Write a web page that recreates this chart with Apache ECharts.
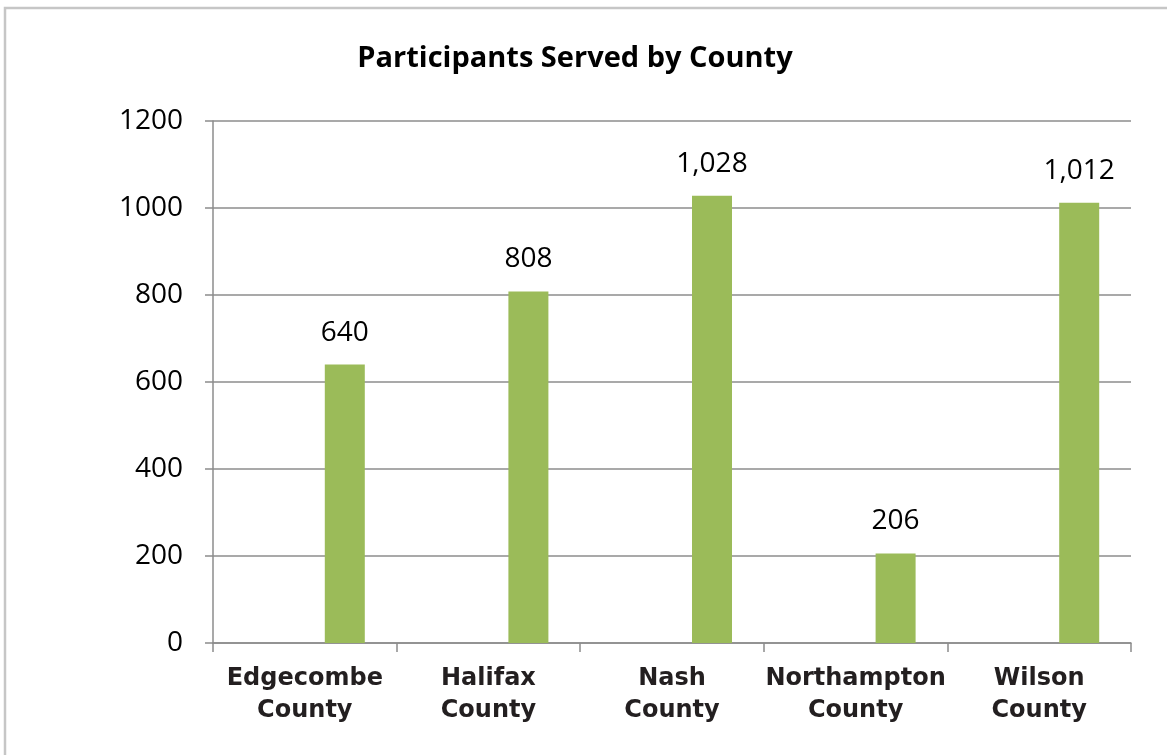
<!DOCTYPE html>
<html>
<head>
<meta charset="utf-8">
<script src="https://cdn.jsdelivr.net/npm/echarts@6/dist/echarts.min.js"></script>
<style>
html,body{margin:0;padding:0;background:#fff;}
#chart{width:1167px;height:755px;}
</style>
</head>
<body>
<div id="chart"></div>
<script>
var categories = ["Edgecombe\nCounty", "Halifax\nCounty", "Nash\nCounty", "Northampton\nCounty", "Wilson\nCounty"];
var participants = [640, 808, 1028, 206, 1012];
var emptySeries = [null, null, null, null, null];
var yTicks = [0, 200, 400, 600, 800, 1000, 1200];

var chart = echarts.init(document.getElementById('chart'));
var gray = '#8c8c8c';
chart.setOption({
  animation: false,
  backgroundColor: '#fff',
  graphic: [{
    type: 'rect',
    shape: {x: 5, y: 8, width: 1200, height: 800},
    style: {fill: 'none', stroke: '#c6c6c6', lineWidth: 2.5},
    silent: true
  }],
  title: {
    text: 'Participants Served by County',
    left: 570, top: 39, textAlign: 'center',
    textStyle: {fontFamily: 'Open Sans', fontWeight: 'bold', fontSize: 29, color: '#000'}
  },
  grid: {left: 213, top: 121, right: 36, bottom: 112},
  xAxis: {
    type: 'category',
    data: categories,
    axisLine: {lineStyle: {color: gray, width: 1.5}},
    axisTick: {show: true, interval: 0, length: 9, lineStyle: {color: gray, width: 1.5}},
    axisLabel: {
      interval: 0, margin: 20, fontFamily: 'DejaVu Sans', fontWeight: 'bold', fontSize: 24,
      lineHeight: 32, color: '#231f20'
    }
  },
  yAxis: {
    type: 'value', min: 0, max: 1200, interval: 200,
    axisLine: {show: true, lineStyle: {color: gray, width: 1.5}},
    axisTick: {show: true, length: 8, lineStyle: {color: gray, width: 1.5}},
    splitLine: {show: true, lineStyle: {color: gray, width: 1.5}},
    axisLabel: {
      margin: 30, fontFamily: 'Open Sans', fontSize: 28, color: '#000',
      formatter: function (v) { return yTicks.indexOf(v) >= 0 ? String(v) : ''; }
    }
  },
  series: [{
    name: 'spacer', type: 'bar', data: emptySeries, barWidth: 40, barGap: '100%', silent: true
  }, {
    name: 'Participants', type: 'bar', data: participants, barWidth: 40, barGap: '100%',
    itemStyle: {color: '#9bbb59'},
    label: {
      show: true, position: 'top', distance: 18,
      fontFamily: 'Open Sans', fontSize: 28, color: '#000',
      formatter: function (p) { return p.value.toLocaleString('en-US'); }
    }
  }]
});
</script>
</body>
</html>
